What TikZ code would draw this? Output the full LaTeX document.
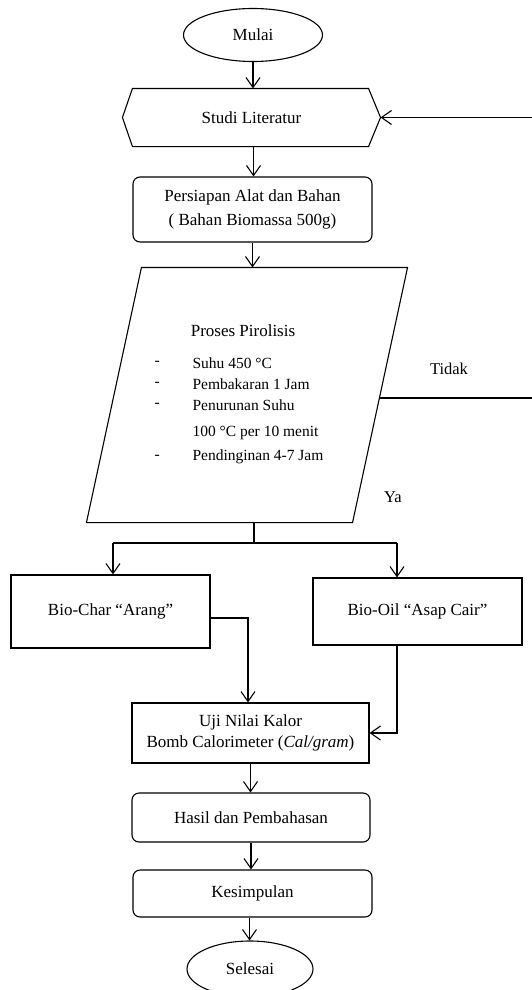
\documentclass[tikz,border=0pt]{standalone}
\usepackage{fontspec}
\setmainfont{Liberation Serif}
\usetikzlibrary{arrows.meta,shapes.geometric}
\begin{document}
\begin{tikzpicture}[x=1pt,y=-1pt,line width=1.1pt,
  every node/.style={inner sep=0pt,font=\fontsize{17}{24}\selectfont},
  arr/.style={-{Straight Barb[length=10pt,width=14pt,line width=1.1pt]}},
  term/.style={draw,ellipse},
  procbox/.style={draw,rectangle},
  roundbox/.style={draw,rectangle,rounded corners=7pt},
  small/.style={font=\fontsize{15.5}{18}\selectfont,anchor=west},
  lbl/.style={font=\fontsize{16.5}{18}\selectfont}]
\useasboundingbox (0,0) rectangle (531,990);

% nodes
\node[term,minimum width=139pt,minimum height=53pt] (mulai) at (253,35) {Mulai};
\node[minimum width=257pt,minimum height=57pt] (studi) at (251.5,117.5) {Studi Literatur};
\draw (studi.west) -- ([xshift=10pt]studi.north west) -- ([xshift=-12pt]studi.north east)
  -- (studi.east) -- ([xshift=-12pt]studi.south east) -- ([xshift=10pt]studi.south west) -- cycle;
\node[roundbox,minimum width=239pt,minimum height=65pt,align=center] (persiapan) at (252.5,209.5)
  {Persiapan Alat dan Bahan\\( Bahan Biomassa 500g)};

\node[minimum width=320pt,minimum height=254pt] (proses) at (247,395) {};
\draw ([xshift=55pt]proses.north west) -- (proses.north east) -- ([xshift=-55pt]proses.south east)
  -- (proses.south west) -- cycle;
\node (ptitle) at (243,331) {Proses Pirolisis};
\node[small] (b1) at (154,363) {-};
\node[small] (b2) at (154,384) {-};
\node[small] (b3) at (154,405) {-};
\node[small] (b4) at (154,457) {-};
\node[small] (t1) at (192,363) {Suhu 450 °C};
\node[small] (t2) at (192,384) {Pembakaran 1 Jam};
\node[small] (t3) at (192,405) {Penurunan Suhu};
\node[small] (t4) at (192,433) {100 °C per 10 menit};
\node[small] (t5) at (192,457) {Pendinginan 4-7 Jam};

\node[lbl] (tidak) at (449,369) {Tidak};
\node[lbl] (ya) at (393,497) {Ya};

\node[procbox,minimum width=199pt,minimum height=73pt] (biochar) at (110.5,611.5) {Bio-Char “Arang”};
\node[procbox,minimum width=209pt,minimum height=67pt] (biooil) at (417.5,611.5) {Bio-Oil “Asap Cair”};
\node[procbox,minimum width=237pt,minimum height=60pt,align=center,font=\fontsize{17}{21}\selectfont] (uji) at (250.5,733)
  {Uji Nilai Kalor\\Bomb Calorimeter (\textit{Cal/gram})};
\node[roundbox,minimum width=238pt,minimum height=49pt] (hasil) at (251,817.5) {Hasil dan Pembahasan};
\node[roundbox,minimum width=239pt,minimum height=47pt] (kesimpulan) at (252.5,893.5) {Kesimpulan};
\node[term,minimum width=126pt,minimum height=56pt] (selesai) at (250,969) {Selesai};

% coordinates
\coordinate (pr) at (378.9,398);
\coordinate (rb) at (535,398);
\coordinate (rt) at (535,117.5);
\coordinate (ps) at (254,522);
\coordinate (split) at (254,543);
\coordinate (sl) at (113,543);
\coordinate (sr) at (397,543);

% connectors
\draw[arr] (mulai.south) -- (mulai.south |- studi.north);
\draw[arr] ([xshift=2pt]studi.south) -- ([xshift=2pt]studi.south |- persiapan.north);
\draw[arr] (persiapan.south) -- (persiapan.south |- proses.north);
\draw[arr] (pr) -- (rb) -- (rt) -- (studi.east);
\draw (ps) -- (split);
\draw (sl) -- (sr);
\draw[arr] (sl) -- (sl |- biochar.north);
\draw[arr] (sr) -- (sr |- biooil.north);
\draw[arr] ([yshift=-6.5pt]biochar.east) -| ([xshift=-2.5pt]uji.north);
\draw[arr] (biooil.south -| sr) |- (uji.east);
\draw[arr] (uji.south) -- (uji.south |- hasil.north);
\draw[arr] (hasil.south) -- (hasil.south |- kesimpulan.north);
\draw[arr] ([xshift=-3pt]kesimpulan.south) -- ([xshift=-3pt]kesimpulan.south |- selesai.north);
\end{tikzpicture}
\end{document}
